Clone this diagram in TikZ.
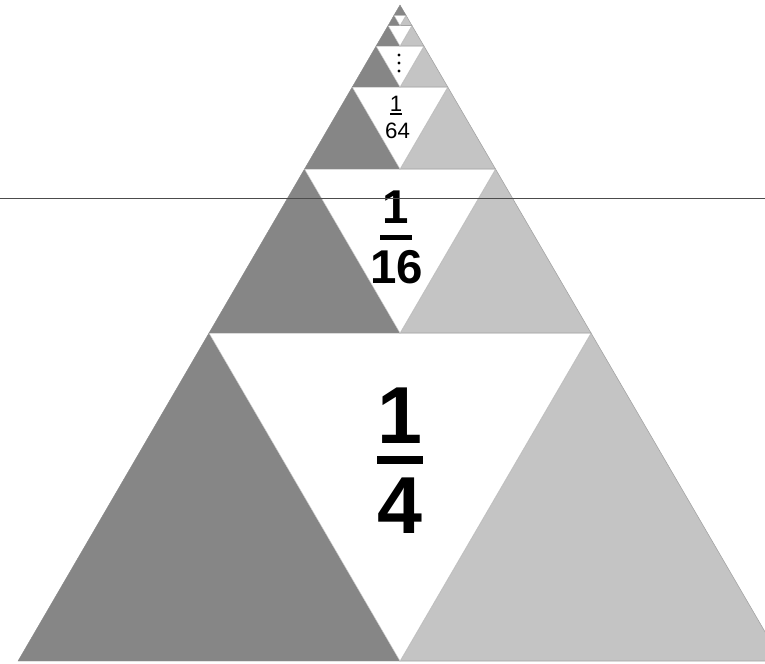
\documentclass[tikz,border=0pt]{standalone}
\usepackage{fontspec}
\setmainfont{Liberation Sans}
\definecolor{darkpart}{HTML}{868686}
\definecolor{lightpart}{HTML}{C4C4C4}
\definecolor{edgegray}{HTML}{A4A4A4}
\tikzset{
  darktri/.style={fill=darkpart, draw=darkpart, line width=0.3pt},
  lighttri/.style={fill=lightpart, draw=edgegray, line width=0.5pt},
  holetri/.style={fill=white, draw=lightpart, line width=0.4pt},
  fracbar/.style={fill=black},
  hline/.style={draw=black!70, line width=0.8pt}
}

\begin{document}
\begin{tikzpicture}[x=0.03cm, y=-0.03cm]
        \useasboundingbox (0,0) rectangle (765,663);
        \clip (0,0) rectangle (765,663);
        %一番大きい段
        \filldraw[darktri] (18,661)--(400,661)--(209,333)--cycle;
        \filldraw[lighttri] (400,661)--(782,661)--(591,333)--cycle;
        \filldraw[holetri] (209,333)--(591,333)--(400,661)--cycle;
        %二段目
        \filldraw[darktri] (209,333)--(400,333)--(304.5,169)--cycle;
        \filldraw[lighttri] (400,333)--(591,333)--(495.5,169)--cycle;
        \filldraw[holetri] (304.5,169)--(495.5,169)--(400,333)--cycle;
        %三段目
        \filldraw[darktri] (304.5,169)--(400,169)--(352.25,87)--cycle;
        \filldraw[lighttri] (400,169)--(495.5,169)--(447.75,87)--cycle;
        \filldraw[holetri] (352.25,87)--(447.75,87)--(400,169)--cycle;
        %四段目
        \filldraw[darktri] (352.25,87)--(400,87)--(376.1,46)--cycle;
        \filldraw[lighttri] (400,87)--(447.75,87)--(423.9,46)--cycle;
        \filldraw[holetri] (376.1,46)--(423.9,46)--(400,87)--cycle;
        %五段目
        \filldraw[darktri] (376.1,46)--(400,46)--(388.1,25.5)--cycle;
        \filldraw[lighttri] (400,46)--(423.9,46)--(411.9,25.5)--cycle;
        \filldraw[holetri] (388.1,25.5)--(411.9,25.5)--(400,46)--cycle;
        %六段目
        \filldraw[darktri] (388.1,25.5)--(400,25.5)--(394,15.2)--cycle;
        \filldraw[lighttri] (400,25.5)--(411.9,25.5)--(406,15.2)--cycle;
        \filldraw[holetri] (394,15.2)--(406,15.2)--(400,25.5)--cycle;
        \filldraw[darktri] (394,15.2)--(406,15.2)--(400,5)--cycle;

        %分数
        \node[inner sep=0, anchor=base] (numA) at (400,443) {\fontsize{69}{69}\selectfont\bfseries 1};
        \fill[fracbar] (377,456) rectangle (423,464);
        \node[inner sep=0, anchor=base] (denA) at (400,533) {\fontsize{69}{69}\selectfont\bfseries 4};

        \node[inner sep=0, anchor=base] (numB) at (396,223) {\fontsize{40.5}{40.5}\selectfont\bfseries 1};
        \fill[fracbar] (380,235) rectangle (412,239.5);
        \node[inner sep=0, anchor=base] (denB) at (397,283) {\fontsize{40.5}{40.5}\selectfont\bfseries 16};

        \node[inner sep=0, anchor=base] (numC) at (396,111) {\fontsize{19}{19}\selectfont 1};
        \fill[fracbar] (390,113) rectangle (402,114.6);
        \node[inner sep=0, anchor=base] (denC) at (397.5,138) {\fontsize{19}{19}\selectfont 64};

        \fill (399,55) circle (1.6);
        \fill (399,63) circle (1.6);
        \fill (399,71) circle (1.6);

        \coordinate (lineL) at (0,198);
        \coordinate (lineR) at (765,198);
        \draw[hline] (lineL)--(lineR);
    \end{tikzpicture}
\end{document}
